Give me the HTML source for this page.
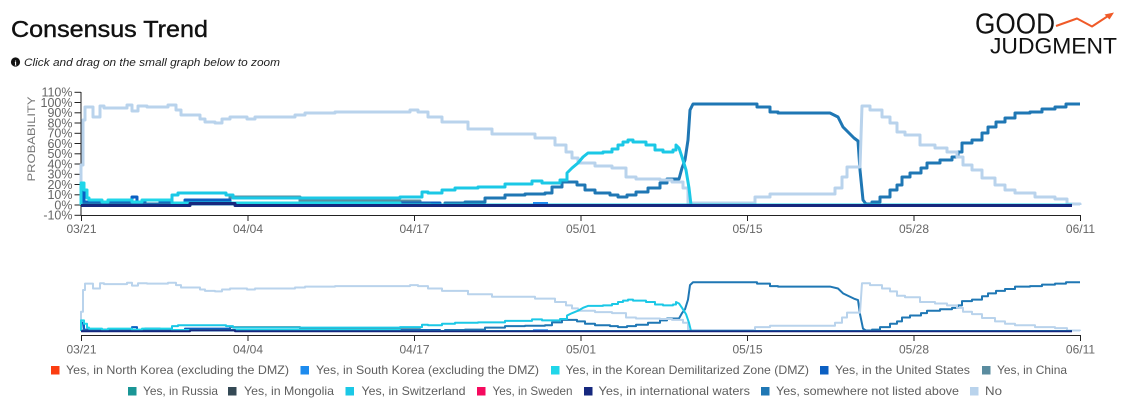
<!DOCTYPE html>
<html>
<head>
<meta charset="utf-8">
<style>
html,body{margin:0;padding:0;background:#fff;overflow:hidden;}
svg{display:block;font-family:"Liberation Sans",sans-serif;}
.yl{font-size:12.5px;fill:#666;text-anchor:end;}
.xl{font-size:12px;fill:#666;text-anchor:middle;}
.lg{font-size:12px;fill:#5e5e5e;}
</style>
</head>
<body>
<svg width="1131" height="417" viewBox="0 0 1131 417" xmlns="http://www.w3.org/2000/svg">
<defs>
  <path id="pChina" fill="none" stroke="#5a8c9f" vector-effect="non-scaling-stroke" stroke-linejoin="round" d="M81 204 H180 V203 H230 V197 H300 V201 H420 V203 H435 V205"/>
  <path id="pUS" fill="none" stroke="#0b5fc2" vector-effect="non-scaling-stroke" stroke-linejoin="round" d="M81 205 L82 188 H84 V202 H132 V197 H137 V203 H145 V200 H160 V203 H185 V200 H230 V203 H440 V205"/>
  <path id="pSome" fill="none" stroke="#1f77b4" vector-effect="non-scaling-stroke" stroke-linejoin="round" d="M81 204 H430 V205 H445 V203 H465 V202 H485 V198 H505 V195 H525 V194 H545 V193 H552 V187 H562 V182 H577 V185 H585 V190 H595 V193 H610 V195 H618 V197 H627 V195 H636 V192 H648 V188 H660 V183 H667 V179 H679 L682 168 L685 160 L688 140 L690 110 L693 104 H757 V107 H770 V112 H778 V113 H830 L838 117 L843 127 L849 133 L854 138 L858 141 L860 170 L863 200 L866 204 H872 V202 H880 V197 H890 V190 H897 V185 H902 V177 H910 V173 H921 V168 H927 V163 H940 V160 H952 V157 H958 V152 H962 V143 H972 V140 H982 V133 H988 V127 H996 V122 H1005 V118 H1015 V113 H1030 V112 H1042 V109 H1055 V107 H1066 V104 H1080"/>
  <path id="pNo" fill="none" stroke="#b9d3ec" vector-effect="non-scaling-stroke" stroke-linejoin="round" d="M81 205 V165 H83 V120 H85 V107 H93 V117 H100 V106 H104 V108 H127 V105 H132 V111 H138 V106 H147 V107 H168 V105 H176 V110 H181 V115 H200 V119 H205 V122 H215 V123 H222 V119 H230 V117 H247 V119 H255 V117 H295 V115 H305 V113 H335 V112 H410 V110 H418 V112 H428 V117 H442 V122 H468 V129 H492 V134 H535 V138 H555 V145 H566 V152 H572 V158 H578 V163 H595 V166 H612 V168 H626 V177 H636 V179 H660 V180 H672 V182 H683 V188 H688 V203 H755 V197 H770 V194 H835 V188 H842 V177 H847 V167 H860 L862 106 H870 V110 H882 V117 H890 V123 H897 V132 H905 V135 H920 V145 H935 V148 H947 V152 H957 V157 H963 V165 H972 V170 H982 V178 H995 V185 H1005 V190 H1015 V193 H1035 V197 H1055 V199 H1067 V204 H1080 V205"/>
  <path id="pDMZ" fill="none" stroke="#20d6e9" vector-effect="non-scaling-stroke" stroke-linejoin="round" d="M81 205 V183 H84 V190 H87 V198 H89 V200 H102 V202 H108 V200 H132 V202 H142 V200 H172 V203 H400 V205 H1072"/>
  <path id="pSwiss" fill="none" stroke="#1bc8e6" vector-effect="non-scaling-stroke" stroke-linejoin="round" d="M172 203 V195 H178 V193 H226 V195 H233 V198 H400 V197 H422 V192 H428 V193 H442 V190 H455 V188 H478 V187 H505 V184 H532 V181 H542 V183 H560 V180 H567 V173 L572 168 L578 163 L583 157 L588 153 H603 V152 H612 V149 H618 V145 H623 V142 H628 V140 H633 V142 H646 V145 H655 V150 H663 V152 H673 V150 H676 V145 L679 148 L682 157 L686 170 L689 188 L691 205"/>
  <path id="pSK" fill="none" stroke="#1d8bee" vector-effect="non-scaling-stroke" d="M533 203.5 H548"/>
  <path id="pNavy" fill="none" stroke="#16287e" vector-effect="non-scaling-stroke" stroke-linejoin="round" d="M81 205.5 H190 V203.5 H235 V205.5 H1072"/>
</defs>

<!-- Title -->
<text x="11" y="37" font-size="23" fill="#111" stroke="#111" stroke-width="0.4" textLength="197" lengthAdjust="spacingAndGlyphs">Consensus Trend</text>
<circle cx="15.5" cy="62" r="4.6" fill="#111"/>
<text x="15.5" y="65.3" font-size="7.5" font-weight="bold" fill="#fff" text-anchor="middle" font-family="Liberation Serif, serif">i</text>
<text x="24" y="66" font-size="11" font-style="italic" fill="#222" textLength="256" lengthAdjust="spacingAndGlyphs">Click and drag on the small graph below to zoom</text>

<!-- Logo -->
<text x="975" y="33.5" font-size="29" fill="#111" textLength="80" lengthAdjust="spacingAndGlyphs">GOOD</text>
<text x="990" y="53.5" font-size="22.5" fill="#111" textLength="127" lengthAdjust="spacingAndGlyphs">JUDGMENT</text>
<polyline points="1056,26 1077,18.5 1092,26.5 1108,16" fill="none" stroke="#f05a28" stroke-width="2" stroke-linejoin="round"/>
<polygon points="1114,12.5 1104.5,14.5 1109.5,19.5" fill="#f05a28"/>

<!-- Y axis label -->
<text transform="translate(35,139) rotate(-90)" font-size="11" fill="#777" text-anchor="middle" textLength="85" lengthAdjust="spacingAndGlyphs">PROBABILITY</text>

<!-- Y ticks -->
<g stroke="#222" stroke-width="1">
  <line x1="81" y1="92" x2="81" y2="215.5"/>
  <line x1="74.5" y1="92.3" x2="81" y2="92.3"/>
  <line x1="74.5" y1="102.5" x2="81" y2="102.5"/>
  <line x1="74.5" y1="112.8" x2="81" y2="112.8"/>
  <line x1="74.5" y1="123" x2="81" y2="123"/>
  <line x1="74.5" y1="133.3" x2="81" y2="133.3"/>
  <line x1="74.5" y1="143.5" x2="81" y2="143.5"/>
  <line x1="74.5" y1="153.8" x2="81" y2="153.8"/>
  <line x1="74.5" y1="164" x2="81" y2="164"/>
  <line x1="74.5" y1="174.3" x2="81" y2="174.3"/>
  <line x1="74.5" y1="184.5" x2="81" y2="184.5"/>
  <line x1="74.5" y1="194.8" x2="81" y2="194.8"/>
  <line x1="74.5" y1="205" x2="81" y2="205"/>
  <line x1="74.5" y1="215.3" x2="81" y2="215.3"/>
</g>
<g class="yl">
  <text x="72.5" y="96.7">110%</text>
  <text x="72.5" y="106.9">100%</text>
  <text x="72.5" y="117.2">90%</text>
  <text x="72.5" y="127.4">80%</text>
  <text x="72.5" y="137.7">70%</text>
  <text x="72.5" y="147.9">60%</text>
  <text x="72.5" y="158.2">50%</text>
  <text x="72.5" y="168.4">40%</text>
  <text x="72.5" y="178.7">30%</text>
  <text x="72.5" y="188.9">20%</text>
  <text x="72.5" y="199.2">10%</text>
  <text x="72.5" y="209.4">0%</text>
  <text x="72.5" y="219.7">-10%</text>
</g>

<!-- Main series -->
<g stroke-width="3">
  <use href="#pChina"/>
  <use href="#pUS"/>
  <use href="#pSome"/>
  <use href="#pNo"/>
  <use href="#pDMZ"/>
  <use href="#pSwiss"/>
  <use href="#pSK"/>
  <use href="#pNavy"/>
</g>

<!-- Main X axis -->
<g stroke="#222" stroke-width="1">
  <line x1="81" y1="215.5" x2="1081" y2="215.5"/>
  <line x1="81.5" y1="215.5" x2="81.5" y2="221"/>
  <line x1="248" y1="215.5" x2="248" y2="221"/>
  <line x1="414.5" y1="215.5" x2="414.5" y2="221"/>
  <line x1="581" y1="215.5" x2="581" y2="221"/>
  <line x1="747.5" y1="215.5" x2="747.5" y2="221"/>
  <line x1="914" y1="215.5" x2="914" y2="221"/>
  <line x1="1080.5" y1="215.5" x2="1080.5" y2="221"/>
</g>
<g class="xl">
  <text x="81.5" y="233">03/21</text>
  <text x="248" y="233">04/04</text>
  <text x="414.5" y="233">04/17</text>
  <text x="581" y="233">05/01</text>
  <text x="747.5" y="233">05/15</text>
  <text x="914" y="233">05/28</text>
  <text x="1080.5" y="233">06/11</text>
</g>

<!-- Navigator series -->
<g transform="matrix(1 0 0 0.483 0 232)" stroke-width="2">
  <use href="#pChina"/>
  <use href="#pUS"/>
  <use href="#pSome"/>
  <use href="#pNo"/>
  <use href="#pDMZ"/>
  <use href="#pSwiss"/>
  <use href="#pSK"/>
  <use href="#pNavy"/>
</g>

<!-- Navigator X axis -->
<g stroke="#222" stroke-width="1">
  <line x1="81" y1="335.5" x2="1081" y2="335.5"/>
  <line x1="81.5" y1="335.5" x2="81.5" y2="341"/>
  <line x1="248" y1="335.5" x2="248" y2="341"/>
  <line x1="414.5" y1="335.5" x2="414.5" y2="341"/>
  <line x1="581" y1="335.5" x2="581" y2="341"/>
  <line x1="747.5" y1="335.5" x2="747.5" y2="341"/>
  <line x1="914" y1="335.5" x2="914" y2="341"/>
  <line x1="1080.5" y1="335.5" x2="1080.5" y2="341"/>
</g>
<g class="xl">
  <text x="81.5" y="353.5">03/21</text>
  <text x="248" y="353.5">04/04</text>
  <text x="414.5" y="353.5">04/17</text>
  <text x="581" y="353.5">05/01</text>
  <text x="747.5" y="353.5">05/15</text>
  <text x="914" y="353.5">05/28</text>
  <text x="1080.5" y="353.5">06/11</text>
</g>

<!-- Legend row 1 -->
<rect x="51" y="366" width="8.5" height="8.5" fill="#fb3d11"/>
<text class="lg" x="66" y="374" textLength="223" lengthAdjust="spacingAndGlyphs">Yes, in North Korea (excluding the DMZ)</text>
<rect x="300.5" y="366" width="8.5" height="8.5" fill="#1d8bee"/>
<text class="lg" x="316" y="374" textLength="223" lengthAdjust="spacingAndGlyphs">Yes, in South Korea (excluding the DMZ)</text>
<rect x="551" y="366" width="8.5" height="8.5" fill="#20d6e9"/>
<text class="lg" x="565.5" y="374" textLength="243.5" lengthAdjust="spacingAndGlyphs">Yes, in the Korean Demilitarized Zone (DMZ)</text>
<rect x="820" y="366" width="8.5" height="8.5" fill="#0b5fc2"/>
<text class="lg" x="835" y="374" textLength="135" lengthAdjust="spacingAndGlyphs">Yes, in the United States</text>
<rect x="982" y="366" width="8.5" height="8.5" fill="#5a8c9f"/>
<text class="lg" x="997" y="374" textLength="70" lengthAdjust="spacingAndGlyphs">Yes, in China</text>

<!-- Legend row 2 -->
<rect x="128" y="387" width="8.5" height="8.5" fill="#1a9696"/>
<text class="lg" x="143" y="395" textLength="75" lengthAdjust="spacingAndGlyphs">Yes, in Russia</text>
<rect x="228" y="387" width="8.5" height="8.5" fill="#344955"/>
<text class="lg" x="244" y="395" textLength="90" lengthAdjust="spacingAndGlyphs">Yes, in Mongolia</text>
<rect x="345.5" y="387" width="8.5" height="8.5" fill="#1bc8e6"/>
<text class="lg" x="361.5" y="395" textLength="104" lengthAdjust="spacingAndGlyphs">Yes, in Switzerland</text>
<rect x="477" y="387" width="8.5" height="8.5" fill="#f50a5e"/>
<text class="lg" x="492.5" y="395" textLength="80" lengthAdjust="spacingAndGlyphs">Yes, in Sweden</text>
<rect x="584" y="387" width="8.5" height="8.5" fill="#16287e"/>
<text class="lg" x="598.5" y="395" textLength="151.5" lengthAdjust="spacingAndGlyphs">Yes, in international waters</text>
<rect x="761" y="387" width="8.5" height="8.5" fill="#1f77b4"/>
<text class="lg" x="776" y="395" textLength="183" lengthAdjust="spacingAndGlyphs">Yes, somewhere not listed above</text>
<rect x="970" y="387" width="8.5" height="8.5" fill="#b9d3ec"/>
<text class="lg" x="985" y="395" textLength="17" lengthAdjust="spacingAndGlyphs">No</text>
</svg>
</body>
</html>
